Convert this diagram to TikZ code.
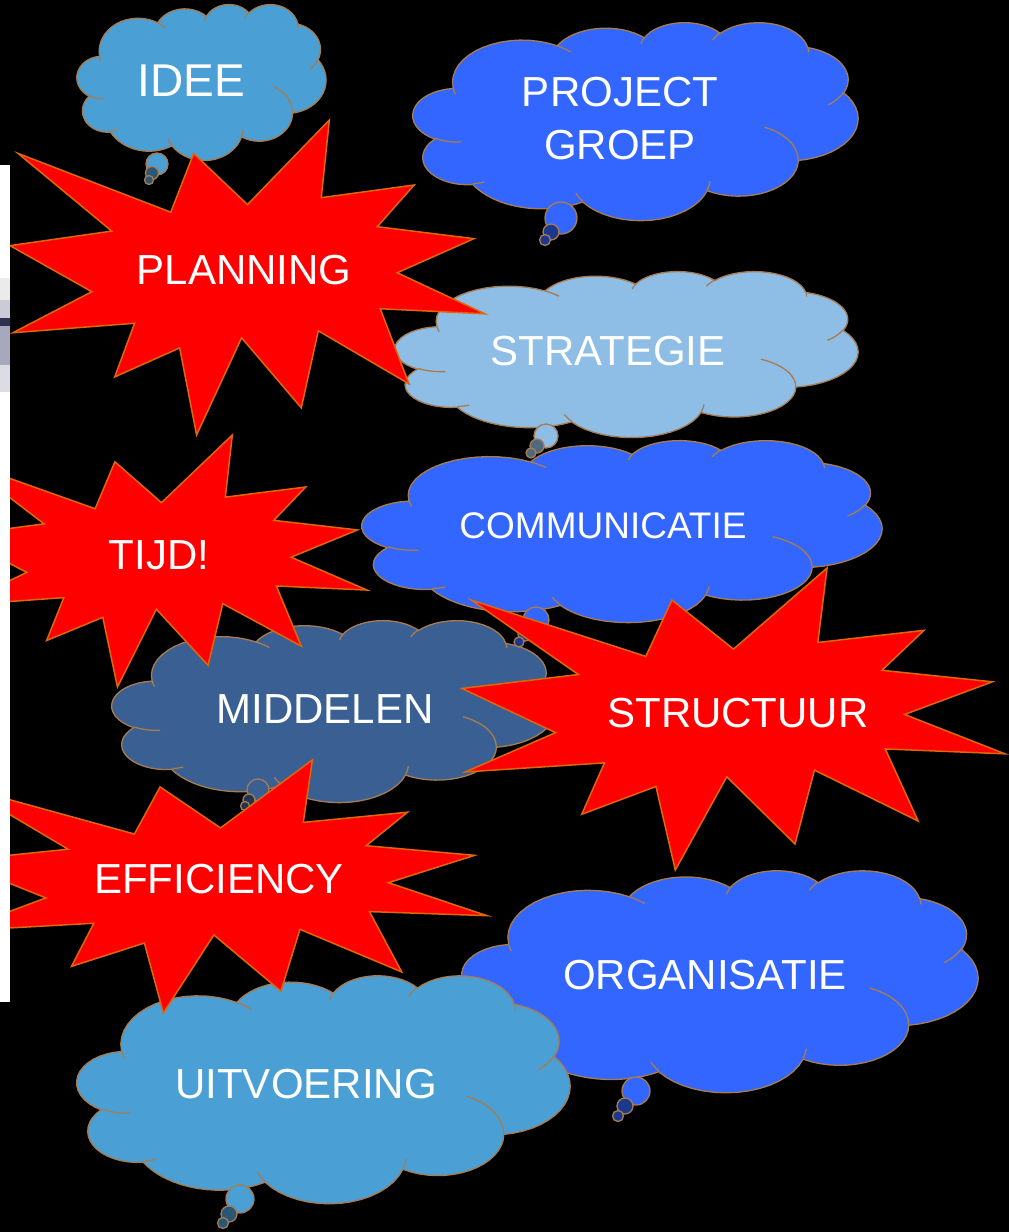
\documentclass[tikz,border=0pt]{standalone}
\usepackage{fontspec}
\setmainfont{Liberation Sans}
\usepackage{tikz}
\definecolor{cloudline}{HTML}{A67C52}
\definecolor{starline}{HTML}{E0660A}
\definecolor{starred}{HTML}{FF0000}
\definecolor{cloudsky}{HTML}{4A9FD4}
\definecolor{cloudblue}{HTML}{3366FF}
\definecolor{cloudpale}{HTML}{8EBEE6}
\definecolor{cloudsteel}{HTML}{3A6093}
\definecolor{stripgrey}{HTML}{A8A8BC}
\definecolor{stripdark}{HTML}{303050}

% ---------- cloud outline (PowerPoint cloud geometry, units of 1/100) ----------
\newcommand\cpx{0}
\newcommand\cpy{0}
\newcommand\addarc[5]{%
  \pgfmathsetmacro\aS{atan2((#2)*sin(#4),(#3)*cos(#4))}%
  \pgfmathsetmacro\aE{atan2((#2)*sin((#4)+(#5)),(#3)*cos((#4)+(#5)))}%
  \pgfmathsetmacro\aD{\aE-\aS}%
  \pgfmathsetmacro\aD{\aD+360*round(((#5)-\aD)/360)}%
  \pgfmathsetmacro\aCx{\cpx-(#2)*cos(\aS)}%
  \pgfmathsetmacro\aCy{\cpy-(#3)*sin(\aS)}%
  \foreach \k in {1,...,16}{%
    \pgfmathsetmacro\aT{\aS+\aD*\k/16}%
    \pgfmathsetmacro\qx{\aCx+(#2)*cos(\aT)}%
    \pgfmathsetmacro\qy{\aCy+(#3)*sin(\aT)}%
    \xdef#1{#1 -- (\qx,\qy)}%
  }%
  \pgfmathsetmacro\cpx{\aCx+(#2)*cos(\aS+\aD)}%
  \pgfmathsetmacro\cpy{\aCy+(#3)*sin(\aS+\aD)}%
}
\def\cloudpts{(39,143.7)}
\def\cpx{39}\def\cpy{143.7}
\addarc\cloudpts{67.53}{91.90}{-190.4875}{123.7805}
\addarc\cloudpts{53.33}{72.67}{-144.1024}{89.9452}
\addarc\cloudpts{43.65}{59.45}{-145.8079}{99.7230}
\addarc\cloudpts{48.57}{65.95}{-130.9861}{117.2417}
\addarc\cloudpts{53.33}{72.73}{-78.7089}{109.0269}
\addarc\cloudpts{67.75}{92.20}{-46.2673}{130.2690}
\addarc\cloudpts{57.85}{78.67}{0.6250}{114.0333}
\addarc\cloudpts{67.52}{92.15}{22.4516}{115.1726}
\addarc\cloudpts{77.20}{105.43}{66.2426}{75.7110}
\addarc\cloudpts{43.60}{59.18}{-274.9421}{146.7356}
\addarc\cloudpts{43.45}{59.45}{-246.8285}{152.5189}

\def\creasepts{}
\newcommand\addcrease[6]{%
  \xdef\creasepts{\creasepts (#1,#2)}%
  \def\cpx{#1}\def\cpy{#2}%
  \addarc\creasepts{#3}{#4}{#5}{#6}}
\addcrease{46.93}{261.77}{43.45}{59.45}{86.7420}{26.4295}
\addcrease{69.28}{348.99}{43.60}{59.18}{73.6105}{11.4475}
\addcrease{164.78}{390.90}{67.52}{92.15}{137.6242}{14.0811}
\addcrease{288.27}{347.51}{67.52}{92.15}{6.4533}{15.9984}
\addcrease{341.29}{229.54}{57.85}{78.67}{-70.2924}{70.9174}
\addcrease{417.98}{153.54}{53.33}{72.73}{30.3180}{27.7515}
\addcrease{383.24}{54.26}{48.57}{65.95}{-13.7443}{14.8589}
\addcrease{290.78}{39.52}{48.57}{65.95}{-149.1815}{18.1954}
\addcrease{221.41}{47.20}{43.65}{59.45}{-163.4943}{17.6864}
\addcrease{140.00}{51.92}{67.53}{91.90}{-66.7070}{12.3194}
\addcrease{41.27}{157.89}{67.53}{91.90}{157.6544}{11.8582}

% ---------- explosion outline (units of 1/100) ----------
\def\starpts{(108,58) -- (145.22,0) -- (141.55,53.25) -- (183.80,44.57) -- (167.02,73.15) -- (210.97,81.37) -- (176.07,104.75) -- (216,132.90) -- (168.37,129.42) -- (181.45,180.95) -- (140.20,144.57) -- (132.47,197.37) -- (105.32,149.35) -- (84.85,216) -- (77.15,156.27) -- (47.62,176.17) -- (56.67,139.37) -- (1.35,145.87) -- (37.22,117.75) -- (0,86.15) -- (46.27,76.17) -- (3.70,22.95) -- (73.12,63.20) -- (83.52,22.95) -- cycle}

\newcommand\drawcloud[5]{%
  \pgfmathsetmacro\sxx{(#3-(#1))/432}%
  \pgfmathsetmacro\syy{(#4-(#2))/432}%
  \begin{scope}[shift={(#1,#2)}, x=\sxx pt, y=-\syy pt]
    \filldraw[cloudbody, fill=#5] \cloudpts -- cycle;
    \draw[cloudcrease] \creasepts;
  \end{scope}}
\newcommand\drawstar[4]{%
  \pgfmathsetmacro\sxx{(#3-(#1))/216}%
  \pgfmathsetmacro\syy{(#4-(#2))/216}%
  \begin{scope}[shift={(#1,#2)}, x=\sxx pt, y=-\syy pt]
    \filldraw[starbody] \starpts;
  \end{scope}}

\begin{document}
\begin{tikzpicture}[x=1pt, y=-1pt,
  cloudbody/.style={draw=cloudline, line width=1.3pt},
  cloudcrease/.style={draw=cloudline, line width=1.3pt},
  starbody/.style={fill=starred, draw=starline, line width=1.5pt, line join=miter},
  lbl/.style={text=white, inner sep=0pt, font=\fontsize{42}{53}\selectfont, align=center}]
\fill[black] (0,0) rectangle (1009,1232);
\useasboundingbox (0,0) rectangle (1009,1232);

% IDEE cloud
\drawcloud{77}{4}{326}{160}{cloudsky}
\filldraw[cloudbody, fill=cloudsky] (157,164) circle[radius=11pt];
\filldraw[cloudbody, fill=cloudsky!55!black] (152,173) circle[radius=6.5pt];
\filldraw[cloudbody, fill=cloudsky!55!black] (149,180) circle[radius=4.5pt];

% PROJECT GROEP cloud
\drawcloud{413}{22}{858}{220}{cloudblue}
\filldraw[cloudbody, fill=cloudblue] (561,218) circle[radius=16pt];
\filldraw[cloudbody, fill=cloudblue!55!black] (551,232) circle[radius=8pt];
\filldraw[cloudbody, fill=cloudblue!55!black] (545,240) circle[radius=5.5pt];

% STRATEGIE cloud
\drawcloud{395}{271}{858}{437}{cloudpale}

% PLANNING star
\drawstar{10}{120}{485}{435}

% COMMUNICATIE cloud
\drawcloud{362}{440}{882}{622}{cloudblue}
\filldraw[cloudbody, fill=cloudpale] (546,436) circle[radius=12pt];
\filldraw[cloudbody, fill=cloudpale!55!black] (537,446) circle[radius=7pt];
\filldraw[cloudbody, fill=cloudpale!55!black] (531,453) circle[radius=5pt];

% MIDDELEN cloud
\drawcloud{112}{620}{556}{802}{cloudsteel}
\filldraw[cloudbody, fill=cloudsteel] (258,790) circle[radius=11pt];
\filldraw[cloudbody, fill=cloudsteel!55!black] (249,800) circle[radius=6pt];
\filldraw[cloudbody, fill=cloudsteel!55!black] (245,806) circle[radius=4.5pt];
\filldraw[cloudbody, fill=cloudblue] (536,620) circle[radius=13pt];
\filldraw[cloudbody, fill=cloudblue!55!black] (525,634) circle[radius=7pt];
\filldraw[cloudbody, fill=cloudblue!55!black] (519,642) circle[radius=5pt];

% TIJD! star
\drawstar{-44}{435}{367}{687}

% STRUCTUUR star
\drawstar{462}{568}{1005}{870}

% ORGANISATIE cloud
\drawcloud{462}{870}{978}{1092}{cloudblue}
\filldraw[cloudbody, fill=cloudblue] (636,1091) circle[radius=14pt];
\filldraw[cloudbody, fill=cloudblue!55!black] (625,1106) circle[radius=8pt];
\filldraw[cloudbody, fill=cloudblue!55!black] (618,1116) circle[radius=5.5pt];

% UITVOERING cloud
\drawcloud{77}{975}{570}{1203}{cloudsky}
\filldraw[cloudbody, fill=cloudsky] (240,1199) circle[radius=14pt];
\filldraw[cloudbody, fill=cloudsky!55!black] (229,1214) circle[radius=8pt];
\filldraw[cloudbody, fill=cloudsky!55!black] (223,1223) circle[radius=5.5pt];

% EFFICIENCY star
\drawstar{-46}{760}{487}{1013}

% white strip on the left edge
\fill[white] (0,165) rectangle (10,1002);
\fill[black!8] (0,278) rectangle (10,300);
\fill[stripgrey!60] (0,300) rectangle (10,318);
\fill[stripdark] (0,318) rectangle (10,326);
\fill[stripgrey] (0,326) rectangle (10,365);
\fill[stripgrey!40] (0,365) rectangle (10,392);

% labels
\node[lbl, font=\fontsize{46}{55}\selectfont] (idee) at (191,81) {IDEE};
\node[lbl] (project) at (620,119) {PROJECT\\GROEP};
\node[lbl] (planning) at (244,270) {PLANNING};
\node[lbl] (strategie) at (608,351) {STRATEGIE};
\node[lbl, font=\fontsize{37}{44}\selectfont] (communicatie) at (603,526) {COMMUNICATIE};
\node[lbl] (tijd) at (159,555) {TIJD!};
\node[lbl] (middelen) at (325,709) {MIDDELEN};
\node[lbl] (structuur) at (738,713) {STRUCTUUR};
\node[lbl] (efficiency) at (219,879) {EFFICIENCY};
\node[lbl] (organisatie) at (705,975) {ORGANISATIE};
\node[lbl] (uitvoering) at (306,1084) {UITVOERING};
\end{tikzpicture}
\end{document}
